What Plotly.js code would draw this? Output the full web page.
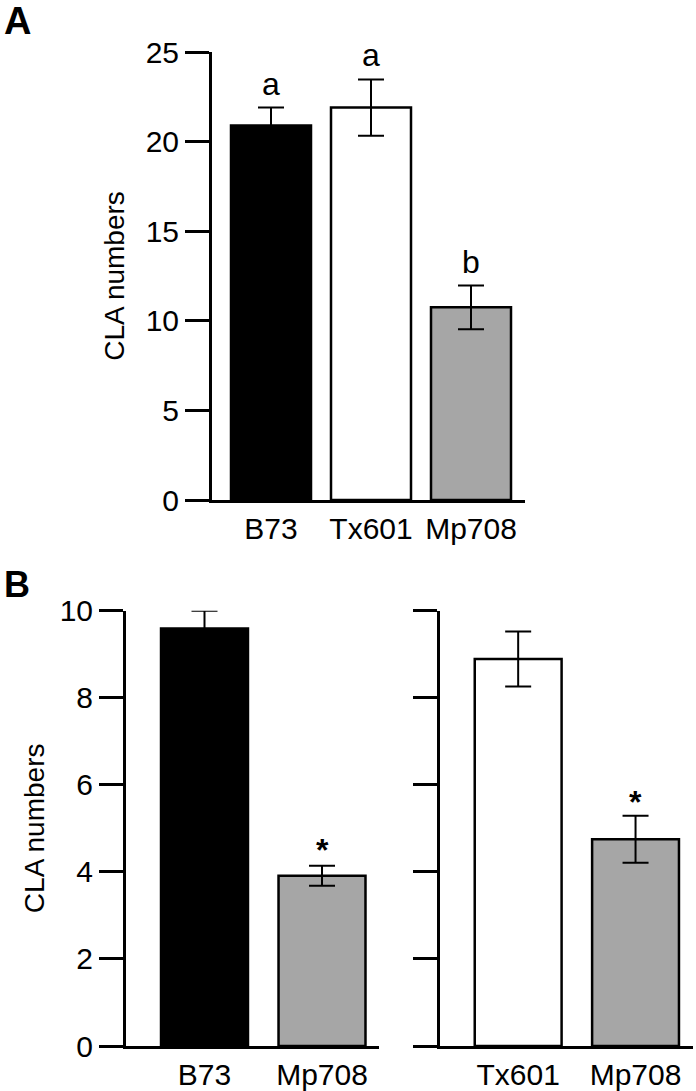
<!DOCTYPE html>
<html>
<head>
<meta charset="utf-8">
<script src="https://cdn.plot.ly/plotly-3.0.1.min.js"></script>
<style>html,body{margin:0;padding:0;background:#fff;}#chart{width:696px;height:1091px;}</style>
</head>
<body>
<div id="chart"></div>
<script>
// Panel A
const catsA = ['B73', 'Tx601', 'Mp708'];
const valsA = [20.9, 21.9, 10.75];
const errA = [1.0, 1.57, 1.22];
const lettersA = ['a', 'a', 'b'];
const colorsA = ['#000000', '#ffffff', '#a6a6a6'];
// Panel B, left
const catsB1 = ['B73', 'Mp708'];
const valsB1 = [9.59, 3.91];
const errB1 = [0.41, 0.23];
const colorsB1 = ['#000000', '#a6a6a6'];
// Panel B, right
const catsB2 = ['Tx601', 'Mp708'];
const valsB2 = [8.89, 4.75];
const errB2 = [0.63, 0.54];
const colorsB2 = ['#ffffff', '#a6a6a6'];
const marksB = ['', '*'];
const ticksA = [0, 5, 10, 15, 20, 25];
const ticksB = [0, 2, 4, 6, 8, 10];

const FONT = 'Arial, Liberation Sans, sans-serif';
const W = 696, H = 1091;
const px = v => v / W;
const py = v => 1 - v / H;

function barTrace(x, y, err, colors, xa, ya, width) {
  return {
    type: 'bar', x: x, y: y, xaxis: xa, yaxis: ya, width: width,
    marker: {color: colors, line: {color: '#000', width: 2.5}},
    error_y: {type: 'data', array: err, visible: true, color: '#000', thickness: 2, width: 13},
    showlegend: false, hoverinfo: 'skip'
  };
}

const data = [
  barTrace(catsA, valsA, errA, colorsA, 'x', 'y', 0.8),
  barTrace(catsB1, valsB1, errB1, colorsB1, 'x2', 'y2', 0.74),
  barTrace(catsB2, valsB2, errB2, colorsB2, 'x3', 'y3', 0.74)
];

function xAx(domain, range) {
  return {domain: domain, range: range, type: 'category', showline: true, linewidth: 3, linecolor: '#000',
    ticks: '', showgrid: false, zeroline: false,
    tickfont: {family: FONT, size: 30, color: '#000'}, fixedrange: true};
}
function yAx(domain, range, tv, showLabels, title, anchor, standoff) {
  return {domain: domain, range: range, anchor: anchor, showline: true, linewidth: 3, linecolor: '#000',
    ticks: 'outside', ticklen: 24, tickwidth: 3, tickcolor: '#000', tickvals: tv, showticklabels: showLabels,
    showgrid: false, zeroline: false, tickfont: {family: FONT, size: 30, color: '#000'},
    title: {text: title, standoff: standoff, font: {family: FONT, size: 28, color: '#000'}}, fixedrange: true};
}

const annotations = [];
catsA.forEach((c, i) => annotations.push({
  xref: 'x', yref: 'y', x: c, y: valsA[i] + errA[i], text: lettersA[i], showarrow: false,
  yanchor: 'bottom', yshift: 4, font: {family: FONT, size: 32, color: '#000'}
}));
catsB1.forEach((c, i) => { if (marksB[i]) annotations.push({
  xref: 'x2', yref: 'y2', x: c, y: valsB1[i] + errB1[i], text: '<b>' + marksB[i] + '</b>', showarrow: false,
  yanchor: 'bottom', yshift: -4, font: {family: FONT, size: 32, color: '#000'}
}); });
catsB2.forEach((c, i) => { if (marksB[i]) annotations.push({
  xref: 'x3', yref: 'y3', x: c, y: valsB2[i] + errB2[i], text: '<b>' + marksB[i] + '</b>', showarrow: false,
  yanchor: 'bottom', yshift: -6, font: {family: FONT, size: 32, color: '#000'}
}); });
annotations.push({xref: 'paper', yref: 'paper', x: 0.003, y: 1.0, xanchor: 'left', yanchor: 'top', yshift: 2,
  text: '<b>A</b>', showarrow: false, font: {family: FONT, size: 38, color: '#000'}});
annotations.push({xref: 'paper', yref: 'paper', x: 0.003, y: py(566), xanchor: 'left', yanchor: 'top', yshift: 4,
  text: '<b>B</b>', showarrow: false, font: {family: FONT, size: 36, color: '#000'}});

const layout = {
  width: W, height: H, margin: {l: 0, r: 0, t: 0, b: 0},
  paper_bgcolor: '#fff', plot_bgcolor: 'rgba(0,0,0,0)', showlegend: false,
  xaxis: Object.assign(xAx([px(212), px(525)], [-0.59, 2.54]), {anchor: 'y'}),
  yaxis: yAx([py(500), py(52)], [0, 25], ticksA, true, 'CLA numbers', 'x', 13),
  xaxis2: Object.assign(xAx([px(126), px(379)], [-0.668, 1.485]), {anchor: 'y2'}),
  yaxis2: yAx([py(1046), py(610.7)], [0, 10], ticksB, true, 'CLA numbers', 'x2', 7),
  xaxis3: Object.assign(xAx([px(440), px(692.7)], [-0.666, 1.487]), {anchor: 'y3'}),
  yaxis3: yAx([py(1046), py(610.7)], [0, 10], ticksB, false, '', 'x3', 10),
  annotations: annotations
};

Plotly.newPlot('chart', data, layout, {staticPlot: true, displayModeBar: false});
</script>
</body>
</html>
